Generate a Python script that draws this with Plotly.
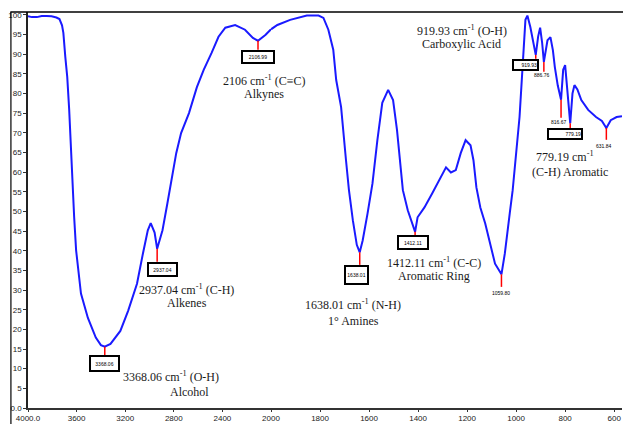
import numpy as np
import plotly.graph_objects as go

# ---------------- data ----------------
wavenumber = [
    4000, 3968, 3927, 3887, 3846, 3806, 3766, 3741, 3720, 3709, 3693, 3677, 3661, 3653,
    3644, 3636, 3620, 3604, 3564, 3507, 3442, 3400, 3368.06, 3321, 3240, 3176, 3103,
    3054, 3014, 2990, 2958, 2937.04, 2893, 2853, 2820, 2780, 2740, 2675, 2610, 2554,
    2489, 2432, 2376, 2295, 2214, 2149, 2106.99, 2044, 2000,
    1986, 1974, 1922, 1854, 1806, 1786, 1766, 1746, 1734, 1714, 1694, 1682, 1666, 1650,
    1638.01, 1626, 1606, 1586, 1566, 1546, 1522, 1502, 1486, 1474, 1462, 1442, 1412.11,
    1402, 1374, 1342, 1306, 1286, 1266, 1246, 1226, 1206, 1186, 1174, 1162, 1146, 1126,
    1106, 1086, 1059.80, 1046, 1026, 1014, 986, 974, 962, 954, 942, 919.93, 910, 902,
    894, 886.76, 872, 860, 850, 842, 830, 816.67, 808, 800, 792, 785, 779.19, 770, 762,
    750, 734, 706, 674, 650, 631.84, 614, 590, 568,
]
transmittance = [
    99.6, 99.4, 99.4, 99.7, 99.7, 99.6, 99.3, 98.9, 97.3, 95.4, 89.3, 84.2, 75.8, 69.9,
    64.8, 56.1, 48.5, 40.1, 29.1, 22.9, 17.9, 16.0, 15.6, 16.3, 19.6, 24.7, 31.6,
    39.3, 45.2, 47.0, 44.6, 40.5, 45.2, 52.0, 57.9, 64.8, 69.9, 75.0, 81.6, 86.0,
    90.3, 94.4, 96.7, 97.4, 96.2, 94.1, 93.4, 94.9, 96.3,
    96.9, 97.4, 98.7, 99.8, 99.8, 99.2, 96.2, 91.1, 83.4, 76.5, 63.0, 55.4, 47.7, 41.5,
    39.6, 42.6, 49.5, 57.1, 68.1, 77.6, 80.9, 78.3, 70.7, 62.2, 55.4, 50.3, 44.8,
    48.5, 51.0, 54.6, 58.7, 61.2, 59.9, 60.5, 64.8, 68.1, 66.8, 63.0, 56.1, 51.0, 46.9,
    41.8, 36.7, 34.0, 39.3, 49.5, 55.4, 74.0, 86.7, 98.7, 99.8, 96.9, 89.8, 94.5, 96.7,
    93.0, 88.0, 93.5, 94.3, 91.0, 86.7, 82.0, 78.4, 86.0, 87.2, 82.0, 76.0, 72.4, 80.0, 82.1,
    81.0, 78.3, 75.8, 74.0, 73.0, 71.2, 73.2, 74.0, 74.2,
]

peak_labels = ["3368.06", "2937.04", "2106.99", "1638.01", "1412.11", "1059.80",
               "919.93", "886.76", "816.67", "779.19", "631.84"]
peak_wn = [3368.06, 2937.04, 2106.99, 1638.01, 1412.11, 1059.80,
           919.93, 886.76, 816.67, 779.19, 631.84]

x_ticks_high = [4000, 3600, 3200, 2800, 2400, 2000]
x_ticktext_high = ["4000.0", "3600", "3200", "2800", "2400", "2000"]
x_ticks_low = [1800, 1600, 1400, 1200, 1000, 800, 600]
x_ticktext_low = ["1800", "1600", "1400", "1200", "1000", "800", "600"]
y_ticks = list(range(0, 101, 5))
y_ticktext = ["0.0"] + [str(v) for v in y_ticks[1:]]

# ---------------- figure ----------------
wn = np.array(wavenumber, dtype=float)
tr = np.array(transmittance, dtype=float)
hi = wn >= 2000
lo = wn <= 2000

BLUE = "#1a1aff"
fig = go.Figure()
fig.add_trace(go.Scatter(x=wn[hi], y=tr[hi], mode="lines", xaxis="x", yaxis="y",
                         line=dict(color=BLUE, width=2), showlegend=False))
fig.add_trace(go.Scatter(x=wn[lo], y=tr[lo], mode="lines", xaxis="x2", yaxis="y",
                         line=dict(color=BLUE, width=2), showlegend=False))

# curve values at the marked peaks
wn_sorted = wn[::-1]
tr_sorted = tr[::-1]
peak_t = [float(np.interp(p, wn_sorted, tr_sorted)) for p in peak_wn]

def xr(w):
    return "x" if w >= 2000 else "x2"

# red marker lines end transmittance
line_ends = [13.5, 37.2, 91.1, 36.4, 44.0, 30.8, 88.8, 85.5, 73.8, 71.2, 68.2]
shapes = []
for w, t0, t1 in zip(peak_wn, peak_t, line_ends):
    shapes.append(dict(type="line", xref=xr(w), yref="y", x0=w, x1=w, y0=t0, y1=t1,
                       line=dict(color="#ff0000", width=1.5), layer="above"))

# outer frame (top and left)
fx = -18 / 605
fy = -16 / 396
shapes.append(dict(type="line", xref="paper", yref="paper", x0=fx, x1=1.02, y0=1, y1=1,
                   line=dict(color="black", width=1.5)))
shapes.append(dict(type="line", xref="paper", yref="paper", x0=fx + 0.001, x1=fx + 0.001,
                   y0=1, y1=fy, line=dict(color="black", width=1.2)))

annotations = []
# boxed peak labels
boxes = [
    (0, 3374, 11.3, 31, 17, "center"),
    (1, 2897, 35.2, 31, 15, "center"),
    (2, 2109, 89.3, 34, 14, "center"),
    (3, 1652, 33.8, 25, 20, "center"),
    (4, 1422, 42.1, 32, 15, "center"),
    (6, 960, 87.3, 27, 12, "right"),
    (9, 802, 69.7, 36, 12, "right"),
]
for i, bx, by, bw, bh, al in boxes:
    annotations.append(dict(x=bx, y=by, xref=xr(bx), yref="y", text=peak_labels[i],
                            showarrow=False, font=dict(family="Liberation Sans", size=5, color="black"),
                            bordercolor="black", borderwidth=2, borderpad=0, bgcolor="white",
                            width=bw - 4, height=bh - 4, align=al, valign="middle"))
# un-boxed small peak labels
small = [(5, 1062, 29.3), (7, 894, 84.6), (8, 826, 72.8), (10, 642, 66.7)]
for i, bx, by in small:
    annotations.append(dict(x=bx, y=by, xref=xr(bx), yref="y", text=peak_labels[i],
                            showarrow=False, font=dict(family="Liberation Sans", size=5, color="black")))

# descriptive texts
SERIF = dict(family="Liberation Serif", size=12, color="#1a1a1a")
texts = [
    ("3368.06 cm<sup>-1</sup> (O-H)", 2820, 7.9),
    ("Alcohol", 2667, 4.1),
    ("2937.04 cm<sup>-1</sup> (C-H)", 2695, 30.2),
    ("Alkenes", 2695, 26.6),
    ("2106 cm<sup>-1</sup> (C≡C)", 2061, 83.3),
    ("Alkynes", 2057, 79.8),
    ("1638.01 cm<sup>-1</sup> (N-H)", 1664, 26.3),
    ("1° Amines", 1662, 22.0),
    ("1412.11 cm<sup>-1</sup> (C-C)", 1336, 37.0),
    ("Aromatic Ring", 1336, 33.5),
    ("919.93 cm<sup>-1</sup> (O-H)", 1222, 96.0),
    ("Carboxylic Acid", 1224, 92.5),
    ("779.19 cm<sup>-1</sup>", 800, 64.0),
    ("(C-H) Aromatic", 780, 60.0),
]
for t, tx, ty in texts:
    annotations.append(dict(x=tx, y=ty, xref=xr(tx), yref="y", text=t, showarrow=False,
                            font=SERIF))

tickfont = dict(family="Liberation Sans", size=8, color="#222")
split = 247.5 / 605
fig.update_layout(
    width=623, height=416,
    margin=dict(l=18, r=0, t=4, b=16),
    paper_bgcolor="white", plot_bgcolor="white",
    showlegend=False,
    xaxis=dict(domain=[0, split], range=[4000, 2000], tickvals=x_ticks_high,
               ticktext=x_ticktext_high, ticks="outside", ticklen=2, tickcolor="#333",
               showline=True, linecolor="#333", linewidth=1.5, showgrid=False,
               zeroline=False, tickfont=tickfont, anchor="y"),
    xaxis2=dict(domain=[split, 1], range=[2000, 568], tickvals=x_ticks_low,
                ticktext=x_ticktext_low, ticks="outside", ticklen=2, tickcolor="#333",
                showline=True, linecolor="#333", linewidth=1.5, showgrid=False,
                zeroline=False, tickfont=tickfont, anchor="y"),
    yaxis=dict(range=[0, 100.7], tickvals=y_ticks, ticktext=y_ticktext, ticks="outside",
               ticklen=3, tickcolor="#333", showline=True, linecolor="#222", linewidth=1.5,
               showgrid=False, zeroline=False, tickfont=tickfont),
    shapes=shapes,
    annotations=annotations,
)

fig.write_html("out.html")
